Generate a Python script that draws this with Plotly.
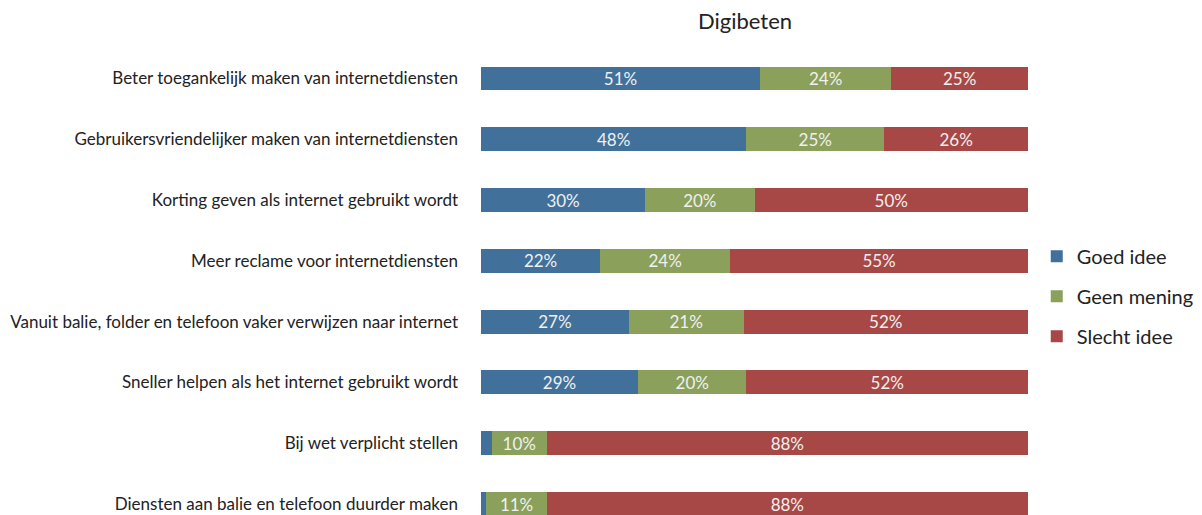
import plotly.graph_objects as go

categories = [
    "Beter toegankelijk maken van internetdiensten",
    "Gebruikersvriendelijker maken van internetdiensten",
    "Korting geven als internet gebruikt wordt",
    "Meer reclame voor internetdiensten",
    "Vanuit balie, folder en telefoon vaker verwijzen naar internet",
    "Sneller helpen als het internet gebruikt wordt",
    "Bij wet verplicht stellen",
    "Diensten aan balie en telefoon duurder maken",
]
goed_idee = [51, 48, 30, 22, 27, 29, 2, 1]
geen_mening = [24, 25, 20, 24, 21, 20, 10, 11]
slecht_idee = [25, 26, 50, 55, 52, 52, 88, 88]

series = [
    ("Goed idee", goed_idee, "#41719A"),
    ("Geen mening", geen_mening, "#8AA05B"),
    ("Slecht idee", slecht_idee, "#A74846"),
]

FONT = "Lato"
fig = go.Figure()
for i, (name, vals, color) in enumerate(series):
    texts = [f"{v}%" if v >= 5 else "" for v in vals]
    fig.add_trace(go.Bar(
        y=list(range(len(categories))), x=vals, name=name, orientation="h",
        marker=dict(color=color, line=dict(width=0)),
        text=texts, textposition="inside", insidetextanchor="middle",
        constraintext="none",
        textfont=dict(family=FONT, size=17, color="#F0F0F0"),
        legendgroup=name, hoverinfo="x+name",
    ))

W, H = 1194, 507  # page body has an 8px margin
fig.update_layout(
    barmode="stack", barnorm="percent", bargap=0.606,
    width=W, height=H,
    margin=dict(l=473, r=174, t=33.5, b=0),
    paper_bgcolor="white", plot_bgcolor="white",
    title=dict(text="Digibeten", x=737 / W, xref="container", xanchor="center",
               y=1 - 13 / H, yref="container", yanchor="middle",
               font=dict(family=FONT, size=22, color="#222222")),
    xaxis=dict(range=[0, 100], visible=False, fixedrange=True),
    yaxis=dict(range=[7.18, -0.6], tickmode="array",
               tickvals=list(range(len(categories))), ticktext=categories,
               showgrid=False, zeroline=False, showline=False, ticks="",
               ticklabelstandoff=22,
               tickfont=dict(family=FONT, size=17, color="#222222")),
    legend=dict(x=1.016, xanchor="left", y=0.4625, yanchor="middle",
                traceorder="grouped", tracegroupgap=11,
                font=dict(family=FONT, size=20, color="#222222"),
                bgcolor="rgba(0,0,0,0)"),
    showlegend=True,
)

fig.write_html("out.html")
